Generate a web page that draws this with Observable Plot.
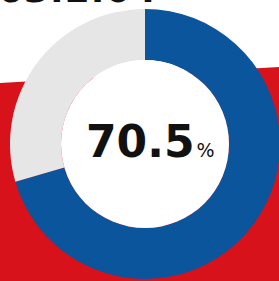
<!DOCTYPE html>
<html>
<head>
<meta charset="utf-8">
<script src="https://cdn.jsdelivr.net/npm/d3@7"></script>
<script src="https://cdn.jsdelivr.net/npm/@observablehq/plot@0.6"></script>
<style>
  html, body { margin: 0; padding: 0; background: #fff; overflow: hidden; }
  #wrap { position: relative; width: 279px; height: 281px; overflow: hidden; }
  #band { position: absolute; left: 0; top: 0; width: 279px; height: 281px; background: #d8121b;
          clip-path: polygon(0 83px, 279px 67px, 279px 281px, 0 281px); }
  #head { position: absolute; left: -2px; top: -31px; font: 800 36px "DejaVu Sans", sans-serif; color: #111; white-space: nowrap; letter-spacing: 1px; }
  #chart { position: absolute; left: 0; top: 0; }
  svg { background: transparent !important; }
</style>
</head>
<body>
<div id="wrap">
  <div id="band"></div>
  <div id="head">63.2.04</div>
  <div id="chart"></div>
</div>
<script>
const categories = ["Ano", "Ostatní"];
const values = [70.5, 29.5];
const colors = ["#0a559c", "#e6e6e6"];
const unit = "%";

const W = 279, H = 281;
const cx = 145, cy = 144, outerR = 135, innerR = 84;

const slices = categories.map((c, i) => ({category: c, value: values[i]}));

function donut(index, scales, vals, dimensions) {
  const g = d3.create("svg:g")
    .attr("transform", `translate(${scales.x(cx)},${scales.y(cy)})`);
  const pie = d3.pie().value(d => d.value).sort(null)(slices);
  const arc = d3.arc().innerRadius(innerR).outerRadius(outerR);
  g.selectAll("path").data(pie).join("path")
    .attr("d", arc)
    .attr("fill", d => scales.color(d.data.category));
  g.append("circle").attr("r", innerR).attr("fill", "#fff");
  return g.node();
}

const plot = Plot.plot({
  width: W,
  height: H,
  margin: 0,
  x: {domain: [0, W], range: [0, W], axis: null},
  y: {domain: [0, H], range: [0, H], axis: null},
  color: {domain: categories, range: colors},
  style: {background: "transparent"},
  marks: [
    donut,
    Plot.text([values[0]], {
      x: () => cx + 49, y: () => cy + 12,
      text: d => d.toFixed(1),
      textAnchor: "end", fontSize: 44, fontWeight: "bold",
      fontFamily: "DejaVu Sans", fill: "#111", lineAnchor: "bottom",
      letterSpacing: "-0.5px"
    }),
    Plot.text([unit], {
      x: () => cx + 51, y: () => cy + 12,
      text: d => d,
      textAnchor: "start", fontSize: 19, fontWeight: "normal",
      fontFamily: "DejaVu Sans", fill: "#111", lineAnchor: "bottom"
    })
  ]
});
document.getElementById("chart").appendChild(plot);
</script>
</body>
</html>
